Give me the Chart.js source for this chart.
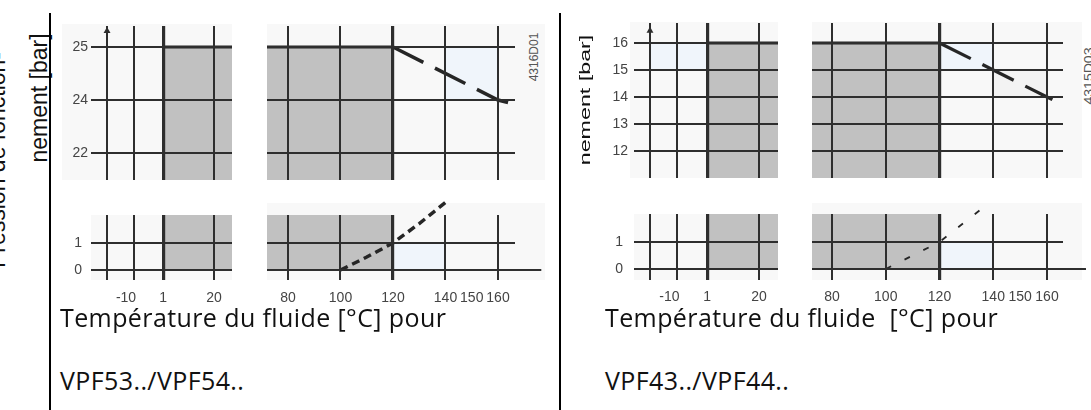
<!DOCTYPE html>
<html><head><meta charset="utf-8">
<script src="https://cdn.jsdelivr.net/npm/chart.js@4.4.0/dist/chart.umd.min.js"></script>
<style>
html,body{margin:0;padding:0;background:#fff;width:1091px;height:410px;overflow:hidden}
#stage{position:absolute;left:0;top:0;width:1091px;height:410px;overflow:hidden}
#stage canvas{position:absolute}
.bg{position:absolute;background:#f8f8f8}
.vline{position:absolute;background:#000;width:2px}
.cap{position:absolute;font-family:'Open Sans','Noto Sans',sans-serif;font-size:25px;letter-spacing:0.4px;line-height:30px;color:#111;white-space:pre}
.rot{position:absolute;white-space:nowrap;font-family:'Liberation Sans',Arial,sans-serif;color:#111;line-height:1}
#clipR{position:absolute;left:562px;top:0;width:529px;height:410px;overflow:hidden}
</style></head><body>
<div id="stage">
  <div class="bg" style="left:62px;top:24px;width:170px;height:156px"></div>
  <div class="bg" style="left:267px;top:24px;width:278px;height:156px"></div>
  <div class="bg" style="left:91px;top:215px;width:141px;height:65px"></div>
  <div class="bg" style="left:267px;top:203px;width:278px;height:77px"></div>
  <div class="bg" style="left:630px;top:22px;width:148px;height:156px"></div>
  <div class="bg" style="left:812px;top:22px;width:270px;height:156px"></div>
  <div class="bg" style="left:634px;top:214px;width:144px;height:66px"></div>
  <div class="bg" style="left:812px;top:203px;width:270px;height:77px"></div>
</div>
<script>
// ---------------- data : left diagram (VPF53../VPF54..) ----------------
const lowTempTicks   = [-20, -10, 1, 20];
const lowTempLabels  = ['', '-10\u2007\u2007', '1', '20'];
const highTempTicks  = [80, 100, 120, 140, 150, 160];
const highTempLabels = ['80', '100', '120', '140', '150', '160'];
const lowPressTicks  = [0, 1];
const lowPressLabels = ['0', '1'];
const leftHighPressTicks  = [22, 24, 25];
const leftHighPressLabels = ['22', '24', '25'];
const leftMaxPressLine  = [[120, 25], [160, 24], [164, 23.9]];
const leftMinPressCurve = [[100, 0], [110, 0.48], [120, 1], [130, 1.72], [140, 2.5]];
const leftMaxPress = 25;
const leftTintTop = [[140, 25], [160, 25]];      // to 24 bar
// ---------------- data : right diagram (VPF43../VPF44..) ----------------
const rightHighPressTicks  = [12, 13, 14, 15, 16];
const rightHighPressLabels = ['12', '13', '14', '15', '16'];
const rightMaxPressLine  = [[120, 16], [140, 15], [160, 14], [162, 13.9]];
const rightMinPressCurve = [[100, 0], [120, 1], [138.5, 2.45]];
const rightMaxPress = 16;
const minTemp = 1, maxNormalTemp = 120, axisStartTemp = -20;
const lowTintBand = [[120, 1], [140, 1]];        // to 0 bar

// piecewise (broken) pressure axis of the left upper diagram
function leftRank(p) {
  const t = leftHighPressTicks;
  const i = p <= t[1] ? 0 : 1;
  return i + (p - t[i]) / (t[i + 1] - t[i]);
}
const pts = a => a.map(([x, y]) => ({x, y}));
const rankPts = a => a.map(([x, y]) => ({x, y: leftRank(y)}));

const GRID = '#2e2e2e', GRAY = '#c1c1c1', TINT = '#f0f5fb', DARK = '#262626';
const tickFont = {family: "'Liberation Sans', Arial, sans-serif", size: 14};
const stage = document.getElementById('stage');

function mk(box, o) {
  const cv = document.createElement('canvas');
  cv.width = box[2]; cv.height = box[3];
  Object.assign(cv.style, {left: box[0] + 'px', top: box[1] + 'px', width: box[2] + 'px', height: box[3] + 'px'});
  stage.appendChild(cv);
  return new Chart(cv, {
    type: 'line',
    data: {datasets: o.ds},
    options: {
      responsive: false, animation: false, events: [], devicePixelRatio: 1,
      layout: {autoPadding: false, padding: {left: 0, top: o.padT || 0, bottom: 0, right: o.padR || 0}},
      plugins: {legend: {display: false}, tooltip: {enabled: false}},
      elements: {point: {radius: 0}, line: {tension: 0}},
      scales: {
        x: {type: 'linear', min: o.x[0], max: o.x[1],
          afterBuildTicks: a => { a.ticks = o.xt.map(v => ({value: v})); },
          afterFit: a => { a.height = o.xh || 0; a.paddingLeft = 0; a.paddingRight = 0; },
          border: {display: false},
          grid: {z: 1, drawTicks: false,
            color: c => (c.tick && c.tick.value === 150) ? 'rgba(0,0,0,0)' : GRID,
            lineWidth: c => (c.tick && (c.tick.value === minTemp || c.tick.value === maxNormalTemp)) ? 3.2 : 2},
          ticks: {display: !!o.xl, autoSkip: false, maxRotation: 0, minRotation: 0, padding: o.xp || 0,
            font: tickFont, color: '#444', callback: (v, i) => o.xl ? o.xl[i] : ''}},
        y: {type: 'linear', min: o.y[0], max: o.y[1],
          afterBuildTicks: a => { a.ticks = o.yt.map(v => ({value: v})); },
          afterFit: a => { a.width = o.yw || 0; a.paddingTop = 0; a.paddingBottom = 0; },
          border: {display: false},
          grid: {z: 1, drawTicks: false, color: GRID, lineWidth: 2},
          ticks: {display: !!o.yl, autoSkip: false, padding: o.yp || 0,
            font: tickFont, color: '#444', callback: (v, i) => o.yl ? o.yl[i] : ''}}
      }
    }
  });
}
const grayTop = (x0, x1, y) => ({data: pts([[x0, y], [x1, y]]), borderColor: DARK, borderWidth: 3, backgroundColor: GRAY, fill: 'start', order: 5});
const grayBand = (x0, x1, y, to) => ({data: pts([[x0, y], [x1, y]]), borderWidth: 0, backgroundColor: GRAY, fill: {value: to}, order: 5});
const tint = (d, to, col) => ({data: pts(d), borderWidth: 0, backgroundColor: col || TINT, fill: {value: to}, order: 6});
const yArrow = (x, y) => ({data: [{x, y}], pointStyle: 'triangle', pointRadius: 4, pointBackgroundColor: GRID, pointBorderColor: GRID, borderWidth: 0, clip: false, order: 0});
const xArrow = (x0, x1) => ({data: pts([[x0, 0], [x1, 0]]), borderColor: GRID, borderWidth: 2, pointRadius: [0, 5], pointStyle: 'triangle', pointRotation: 90, pointBackgroundColor: GRID, pointBorderColor: GRID, clip: false, order: 0});

// ----- left diagram -----
const LX1 = [-26, 26.73], LX2 = [72, 166.48], LY1 = [-0.509, 2.396], LY2 = [-0.37, 2.037];
mk([60, 26, 172, 154], {x: LX1, y: LY1, xt: lowTempTicks, yt: leftHighPressTicks.map(leftRank), yl: leftHighPressLabels, yw: 31, yp: 3,
  ds: [yArrow(axisStartTemp, 2.3), grayTop(minTemp, LX1[1], leftRank(leftMaxPress))]});
mk([267, 26, 248, 154], {x: LX2, y: LY1, xt: highTempTicks, yt: leftHighPressTicks.map(leftRank),
  ds: [{data: rankPts(leftMaxPressLine), borderColor: DARK, borderWidth: 3.5, borderDash: [34, 13], fill: false, order: 1},
       grayTop(LX2[0], maxNormalTemp, leftRank(leftMaxPress)),
       {data: rankPts(leftTintTop), borderWidth: 0, backgroundColor: TINT, fill: {value: leftRank(24)}, order: 6}]});
mk([60, 215, 172, 95], {x: LX1, y: LY2, xt: lowTempTicks, xl: lowTempLabels, xh: 30, xp: 10, yt: lowPressTicks, yl: lowPressLabels, yw: 31, yp: 9,
  ds: [grayBand(minTemp, LX1[1], LY2[1], 0)]});
mk([267, 197, 276, 113], {x: LX2, y: LY2, xt: highTempTicks, xl: highTempLabels, xh: 30, xp: 10, yt: lowPressTicks, padR: 28, padT: 18,
  ds: [{data: pts(leftMinPressCurve), borderColor: DARK, borderWidth: 3.5, borderDash: [8, 5], fill: false, clip: false, order: 1},
       xArrow(LX2[1], 176.5),
       grayBand(LX2[0], maxNormalTemp, LY2[1], 0),
       tint(lowTintBand, 0)]});

// ----- right diagram -----
const RX1 = [-25.87, 26.97], RX2 = [72.56, 165.95], RY1 = [11.0, 16.74], RY2 = [-0.407, 2.037];
mk([600, 23, 178, 155], {x: RX1, y: RY1, xt: lowTempTicks, yt: rightHighPressTicks, yl: rightHighPressLabels, yw: 34, yp: 6,
  ds: [yArrow(axisStartTemp, 16.45), grayTop(minTemp, RX1[1], rightMaxPress),
       tint([[axisStartTemp, 16], [minTemp, 16]], 15)]});
mk([812, 23, 251, 155], {x: RX2, y: RY1, xt: highTempTicks, yt: rightHighPressTicks,
  ds: [{data: pts(rightMaxPressLine), borderColor: DARK, borderWidth: 3.2, borderDash: [35, 13], fill: false, order: 1},
       grayTop(RX2[0], maxNormalTemp, rightMaxPress),
       tint([[120, 16], [140, 16]], 15),
       tint([[140, 15], [160, 15]], 14, '#f3f3f3')]});
mk([600, 214, 178, 96], {x: RX1, y: RY2, xt: lowTempTicks, xl: lowTempLabels, xh: 30, xp: 9, yt: lowPressTicks, yl: lowPressLabels, yw: 34, yp: 11,
  ds: [grayBand(minTemp, RX1[1], RY2[1], 0)]});
mk([812, 196, 279, 114], {x: RX2, y: RY2, xt: highTempTicks, xl: highTempLabels, xh: 30, xp: 9, yt: lowPressTicks, padR: 28, padT: 18,
  ds: [{data: pts(rightMinPressCurve), borderColor: DARK, borderWidth: 1.8, borderDash: [6, 15], fill: false, clip: false, order: 1},
       xArrow(RX2[1], 174.5),
       grayBand(RX2[0], maxNormalTemp, RY2[1], 0),
       tint(lowTintBand, 0)]});

// ----- texts & frame -----
function addDiv(parent, cls, style, text) {
  const d = document.createElement('div'); d.className = cls; d.style.cssText = style; d.textContent = text; parent.appendChild(d); return d;
}
addDiv(stage, 'cap', 'left:60px;top:302px', 'Température du fluide [°C] pour');
addDiv(stage, 'cap', 'left:60px;top:365px', 'VPF53../VPF54..');
addDiv(stage, 'cap', 'left:605px;top:302px', 'Température du fluide  [°C] pour');
addDiv(stage, 'cap', 'left:605px;top:365px', 'VPF43../VPF44..');
addDiv(stage, 'rot', 'left:-3px;top:160px;font-size:23px;transform:translate(-50%,-50%) rotate(-90deg)', 'Pression de fonction-');
addDiv(stage, 'rot', 'left:39px;top:98px;font-size:23px;transform:translate(-50%,-50%) rotate(-90deg)', 'nement [bar]');
addDiv(stage, 'rot', 'left:534px;top:57px;font-size:12px;color:#555;transform:translate(-50%,-50%) rotate(-90deg)', '4316D01');
addDiv(stage, 'rot', 'left:1089px;top:76px;font-size:12px;color:#555;transform:translate(-50%,-50%) rotate(-90deg) scaleX(1.17)', '4315D03');
const clipR = document.createElement('div'); clipR.id = 'clipR'; stage.appendChild(clipR);
addDiv(clipR, 'rot', 'left:-7px;top:152px;font-size:15px;transform:translate(-50%,-50%) rotate(-90deg) scaleX(1.55)', 'Pression de fonction-');
addDiv(clipR, 'rot', 'left:22px;top:100px;font-size:15px;transform:translate(-50%,-50%) rotate(-90deg) scaleX(1.55)', 'nement [bar]');
addDiv(stage, 'vline', 'left:49px;top:13px;height:397px', '');
addDiv(stage, 'vline', 'left:559px;top:13px;height:397px', '');
</script>
</body></html>
